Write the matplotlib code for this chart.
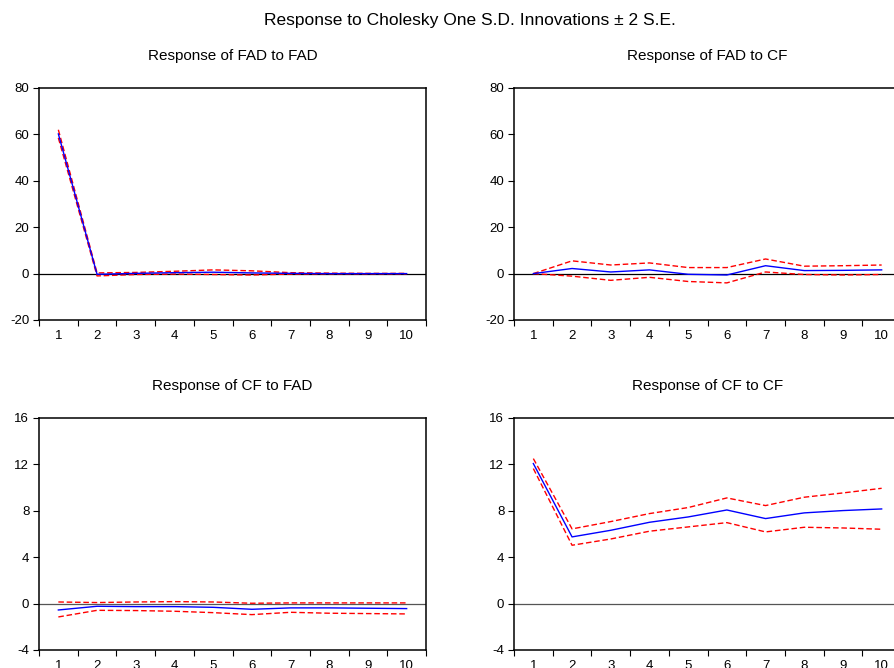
#!/bin/env python3
"""
Impulse responses (Cholesky one S.D. innovations +/- 2 S.E.), EViews-style 2x2 grid.
"""

import matplotlib
matplotlib.use("Agg")
import matplotlib.pyplot as plt

plt.rcParams['font.family'] = ['Liberation Sans', 'DejaVu Sans']
plt.rcParams['axes.unicode_minus'] = False

periods = [1, 2, 3, 4, 5, 6, 7, 8, 9, 10]

# response of FAD to FAD
fad_fad = [60.2, -0.3, 0.1, 0.4, 0.6, 0.3, 0.1, 0.0, 0.0, 0.0]
fad_fad_hi = [62.0, 0.3, 0.5, 1.0, 1.6, 1.2, 0.4, 0.2, 0.1, 0.1]
fad_fad_lo = [58.5, -1.0, -0.4, -0.2, -0.4, -0.6, -0.2, -0.1, -0.1, -0.1]

# response of FAD to CF
fad_cf = [0.0, 2.2, 0.7, 1.6, -0.3, -0.6, 3.4, 1.3, 1.4, 1.6]
fad_cf_hi = [0.0, 5.5, 3.7, 4.6, 2.6, 2.6, 6.3, 3.2, 3.4, 3.7]
fad_cf_lo = [0.0, -1.1, -2.9, -1.6, -3.4, -4.0, 0.7, -0.4, -0.6, -0.4]

# response of CF to FAD
cf_fad = [-0.55, -0.23, -0.26, -0.26, -0.32, -0.49, -0.37, -0.37, -0.40, -0.43]
cf_fad_hi = [0.14, 0.09, 0.14, 0.17, 0.14, 0.03, 0.06, 0.06, 0.06, 0.06]
cf_fad_lo = [-1.15, -0.58, -0.60, -0.66, -0.78, -0.95, -0.75, -0.83, -0.86, -0.89]

# response of CF to CF
cf_cf = [12.07, 5.75, 6.32, 7.01, 7.47, 8.07, 7.33, 7.82, 8.02, 8.16]
cf_cf_hi = [12.5, 6.44, 7.07, 7.76, 8.28, 9.11, 8.45, 9.17, 9.54, 9.94]
cf_cf_lo = [11.64, 5.03, 5.57, 6.24, 6.61, 6.98, 6.18, 6.58, 6.52, 6.41]

panels = [
    ("Response of FAD to FAD", fad_fad, fad_fad_hi, fad_fad_lo, (-20, 80), [-20, 0, 20, 40, 60, 80]),
    ("Response of FAD to CF", fad_cf, fad_cf_hi, fad_cf_lo, (-20, 80), [-20, 0, 20, 40, 60, 80]),
    ("Response of CF to FAD", cf_fad, cf_fad_hi, cf_fad_lo, (-4, 16), [-4, 0, 4, 8, 12, 16]),
    ("Response of CF to CF", cf_cf, cf_cf_hi, cf_cf_lo, (-4, 16), [-4, 0, 4, 8, 12, 16]),
]

W, H = 894, 668
fig = plt.figure(figsize=(W / 100, H / 100), dpi=100)

# axes boxes in pixels: left, top (width/height shared)
boxes = [(39, 88), (514, 88), (39, 418), (514, 418)]
zero_colors = ['black', 'black', '#555555', '#555555']
ax_w, ax_h = 387, 232

for (title, resp, hi, lo, ylim, yticks), (left, top), zc in zip(panels, boxes, zero_colors):
    ax = fig.add_axes([left / W, 1 - (top + ax_h) / H, ax_w / W, ax_h / H])
    ax.axhline(0, color=zc, lw=0.9, zorder=1)
    ax.plot(periods, hi, color='red', lw=1.0, ls=(0, (4, 2)), zorder=2)
    ax.plot(periods, lo, color='red', lw=1.0, ls=(0, (4, 2)), zorder=2)
    ax.plot(periods, resp, color='blue', lw=1.0, zorder=3)
    ax.set_xlim(0.5, 10.5)
    ax.set_ylim(*ylim)
    ax.set_yticks(yticks)
    # ticks sit between periods, labels centred on them
    ax.set_xticks([p - 0.5 for p in periods] + [10.5])
    ax.set_xticklabels([])
    ax.set_xticks(periods, minor=True)
    ax.set_xticklabels([str(p) for p in periods], minor=True)
    ax.tick_params(axis='x', which='major', direction='out', length=4, width=0.8)
    ax.tick_params(axis='x', which='minor', length=0, pad=7, labelsize=9.5)
    ax.tick_params(axis='y', direction='out', length=4, width=0.8, pad=3, labelsize=9.5)
    for s in ax.spines.values():
        s.set_linewidth(1.1)
    ax.set_title(title, fontsize=11, pad=20)

fig.text(470 / W, 1 - 20 / H, "Response to Cholesky One S.D. Innovations \u00b1 2 S.E.",
         ha='center', va='center', fontsize=12.5)

fig.savefig("out.png", dpi=100)
